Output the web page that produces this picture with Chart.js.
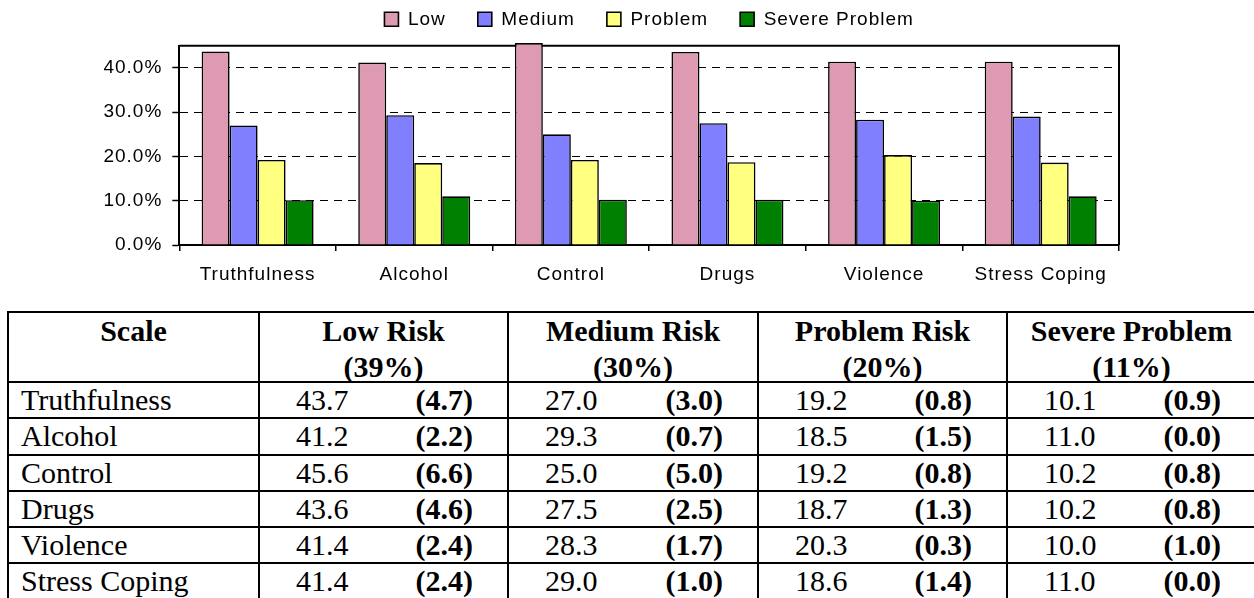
<!DOCTYPE html>
<html>
<head>
<meta charset="utf-8">
<script src="https://cdn.jsdelivr.net/npm/chart.js@4"></script>
<style>
  html, body { margin: 0; padding: 0; background: #fff; overflow: hidden; }
  #wrap { position: relative; width: 1254px; height: 598px; overflow: hidden; }
  #chart { position: absolute; left: 0; top: 0; }
  #tbl {
    position: absolute; left: 7px; top: 311px;
    display: grid;
    grid-template-columns: 251px 124px 125px 124px 126px 124px 125px 124px 125px;
    grid-template-rows: 70px repeat(6, 36.3px);
    border-top: 2px solid #000; border-left: 2px solid #000;
    font-family: "Liberation Serif", "Times New Roman", serif;
    font-size: 30px; color: #000;
  }
  #tbl div { box-sizing: border-box; border-bottom: 2px solid #000; white-space: nowrap; }
  #tbl .hd { font-weight: bold; text-align: center; line-height: 36px; border-right: 2px solid #000; overflow: visible; }
  #tbl .sc { padding-left: 12px; line-height: 34.3px; border-right: 2px solid #000; }
  #tbl .val { padding-left: 36px; line-height: 34.3px; }
  #tbl .sd { font-weight: bold; text-align: right; padding-right: 34px; line-height: 34.3px; border-right: 2px solid #000; }
</style>
</head>
<body>
<div id="wrap">
  <canvas id="chart" width="1254" height="300"></canvas>
  <div id="tbl"></div>
</div>
<script>
// Scales and risk bands
const categories = ['Truthfulness', 'Alcohol', 'Control', 'Drugs', 'Violence', 'Stress Coping'];
const seriesNames = ['Low', 'Medium', 'Problem', 'Severe Problem'];

// Percentage of respondents in each band, per scale
const lowRisk     = [43.7, 41.2, 45.6, 43.6, 41.4, 41.4];
const mediumRisk  = [27.0, 29.3, 25.0, 27.5, 28.3, 29.0];
const problemRisk = [19.2, 18.5, 19.2, 18.7, 20.3, 18.6];
const severeRisk  = [10.1, 11.0, 10.2, 10.2, 10.0, 11.0];

// Deviation from the expected band share
const lowDev     = [4.7, 2.2, 6.6, 4.6, 2.4, 2.4];
const mediumDev  = [3.0, 0.7, 5.0, 2.5, 1.7, 1.0];
const problemDev = [0.8, 1.5, 0.8, 1.3, 0.3, 1.4];
const severeDev  = [0.9, 0.0, 0.8, 0.8, 1.0, 0.0];

// Table headers and expected shares
const bandHeaders = ['Low Risk', 'Medium Risk', 'Problem Risk', 'Severe Problem'];
const bandExpected = [39, 30, 20, 11];

// Y axis tick values
const yTickValues = [0, 10, 20, 30, 40];

const seriesColors = ['#DE9AB2', '#8080FF', '#FFFF80', '#008000'];
const sansFont = { family: '"Liberation Sans", Arial, sans-serif', size: 19 };

// ---------- chart ----------
const textSpacing = {
  id: 'textSpacing',
  beforeUpdate(chart) { chart.ctx.letterSpacing = '1px'; },
  beforeDraw(chart) { chart.ctx.letterSpacing = '1px'; }
};

// Extra room under the legend, and legend centred over the plot area
const legendPlacement = {
  id: 'legendPlacement',
  beforeInit(chart) {
    const legend = chart.legend;
    const fit = legend.fit;
    legend.fit = function () { fit.call(this); this.height += 6.9; };
  },
  afterLayout(chart) {
    const legend = chart.legend;
    const area = chart.chartArea;
    const centre = (area.left + area.right) / 2;
    legend.lineWidths[0] += legend.left + legend.right - 2 * centre;
  }
};

const plotFrame = {
  id: 'plotFrame',
  beforeDatasetsDraw(chart) {
    const { ctx, chartArea: a } = chart;
    ctx.save();
    ctx.strokeStyle = '#000';
    ctx.lineWidth = 2;
    ctx.beginPath();
    ctx.moveTo(a.left, a.top);
    ctx.lineTo(a.right, a.top);
    ctx.lineTo(a.right, a.bottom);
    ctx.stroke();
    ctx.restore();
  }
};

const seriesValues = [lowRisk, mediumRisk, problemRisk, severeRisk];

new Chart(document.getElementById('chart'), {
  type: 'bar',
  data: {
    labels: categories,
    datasets: seriesNames.map((name, i) => ({
      label: name,
      data: seriesValues[i],
      backgroundColor: seriesColors[i],
      borderColor: '#000',
      borderWidth: 1.6,
      categoryPercentage: 0.715,
      barPercentage: 1.0,
      clip: false
    }))
  },
  options: {
    responsive: false,
    animation: false,
    devicePixelRatio: 1,
    layout: { padding: { left: 0, right: 135, top: -22.2, bottom: 0 } },
    plugins: {
      legend: {
        position: 'top',
        align: 'center',
        labels: { boxWidth: 14, boxHeight: 14, padding: 32, color: '#000', font: sansFont }
      },
      tooltip: { enabled: false }
    },
    scales: {
      x: {
        grid: { drawOnChartArea: false, drawTicks: true, tickLength: 6, color: '#000', lineWidth: 1.5, offset: true },
        border: { display: true, color: '#000', width: 2 },
        ticks: { color: '#000', font: sansFont, padding: 12, maxRotation: 0, autoSkip: false },
        afterFit(scale) { scale.height = 55; }
      },
      y: {
        min: 0,
        max: 45,
        afterBuildTicks(scale) { scale.ticks = yTickValues.map(v => ({ value: v })); },
        ticks: { color: '#000', font: sansFont, padding: 10, callback: v => v.toFixed(1) + '%' },
        grid: { color: '#000', lineWidth: 1, tickLength: 7, tickColor: '#000', tickWidth: 1.5 },
        border: { display: true, color: '#000', width: 2, dash: [8, 6] },
        afterFit(scale) { scale.width = 179.3; }
      }
    }
  },
  plugins: [textSpacing, legendPlacement, plotFrame]
});

// ---------- table ----------
const deviations = [lowDev, mediumDev, problemDev, severeDev];
const tbl = document.getElementById('tbl');
function cell(cls, html, span) {
  const d = document.createElement('div');
  d.className = cls;
  d.innerHTML = html;
  if (span) d.style.gridColumn = 'span ' + span;
  tbl.appendChild(d);
}
cell('hd', 'Scale');
bandHeaders.forEach((h, i) => cell('hd', h + '<br>(' + bandExpected[i] + '%)', 2));
categories.forEach((c, r) => {
  cell('sc', c);
  seriesValues.forEach((vals, i) => {
    cell('val', vals[r].toFixed(1));
    cell('sd', '(' + deviations[i][r].toFixed(1) + ')');
  });
});
</script>
</body>
</html>
